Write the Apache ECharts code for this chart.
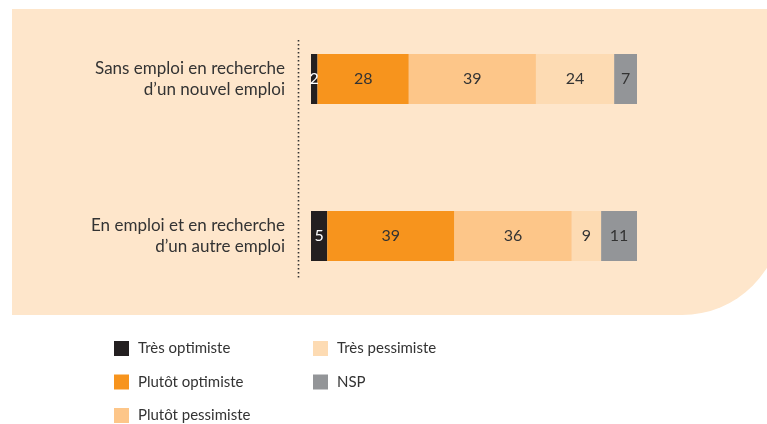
<!DOCTYPE html>
<html>
<head>
<meta charset="utf-8">
<script src="https://cdn.jsdelivr.net/npm/echarts@6/dist/echarts.min.js"></script>
<style>
  html, body { margin: 0; padding: 0; background: #fff; }
</style>
</head>
<body>
<div id="main" style="width: 767px; height: 424px;"></div>
<script>
// categories (top to bottom)
const categories = [
    "Sans emploi en recherche\nd\u2019un nouvel emploi",
    "En emploi et en recherche\nd\u2019un autre emploi"
];
const seriesNames = ["Très optimiste", "Plutôt optimiste", "Plutôt pessimiste", "Très pessimiste", "NSP"];
const tresOptimiste = [2, 5];
const plutotOptimiste = [28, 39];
const plutotPessimiste = [39, 36];
const tresPessimiste = [24, 9];
const nsp = [7, 11];

const colors = ['#231f20', '#f7941d', '#fdc689', '#fddbb3', '#939598'];
const labelColors = ['#ffffff', '#333333', '#333333', '#333333', '#333333'];
const allData = [tresOptimiste, plutotOptimiste, plutotPessimiste, tresPessimiste, nsp];
const fontFam = 'Lato, "Open Sans", sans-serif';

const chart = echarts.init(document.getElementById('main'));

let series = seriesNames.map(function (name, i) {
    return {
        name: name,
        type: 'bar',
        stack: 'total',
        barWidth: 50,
        data: allData[i],
        itemStyle: { color: colors[i] },
        label: {
            show: true,
            position: 'inside',
            color: labelColors[i],
            fontSize: 16,
            fontFamily: fontFam
        },
        emphasis: { disabled: true }
    };
});

function legendCol(names, left) {
    return {
        data: names,
        orient: 'vertical',
        left: left,
        top: 341,
        height: 90,
        padding: 0,
        itemWidth: 15,
        itemHeight: 15,
        itemGap: 18.5,
        icon: 'rect',
        selectedMode: false,
        textStyle: { fontSize: 15, lineHeight: 15, color: '#333333', fontFamily: fontFam, padding: [0, 0, 0, 4] }
    };
}

chart.setOption({
    animation: false,
    graphic: [
        {
            // fond du panneau
            type: 'rect',
            z: -10,
            shape: { x: 12, y: 9, width: 770, height: 306, r: [0, 0, 100, 0] },
            style: { fill: '#fee6cb' }
        },
        {
            // axe pointillé
            type: 'line',
            z: -5,
            shape: { x1: 298.5, y1: 40, x2: 298.5, y2: 278 },
            style: { stroke: '#333', lineWidth: 1.6, lineDash: [1.6, 2.4] }
        }
    ],
    grid: {
        left: 311,
        right: 130,
        top: 0.5,
        height: 314
    },
    xAxis: {
        type: 'value',
        min: 0,
        max: 100,
        show: false
    },
    yAxis: {
        type: 'category',
        inverse: true,
        data: categories,
        axisLine: { show: false },
        axisTick: { show: false },
        axisLabel: {
            margin: 26,
            fontSize: 17,
            lineHeight: 21,
            color: '#333333',
            fontFamily: fontFam,
            align: 'right'
        }
    },
    legend: [
        legendCol(seriesNames.slice(0, 3), 114),
        legendCol(seriesNames.slice(3), 313)
    ],
    series: series
});
</script>
</body>
</html>
